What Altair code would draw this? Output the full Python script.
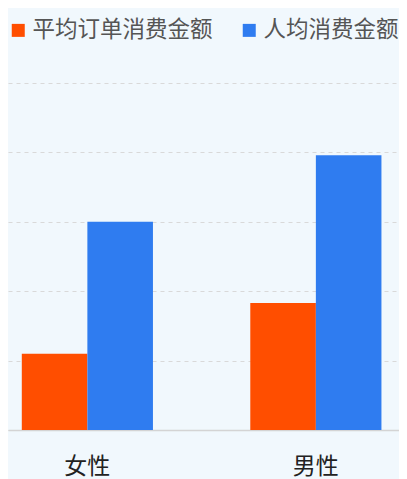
import altair as alt
import pandas as pd

genders = ["女性", "男性"]
series = ["平均订单消费金额", "人均消费金额"]
avg_order = [1.1, 1.83]
per_capita = [3.0, 3.96]
y_ticks = [0, 1, 2, 3, 4, 5]
colors = ["#FF4E00", "#2F7CF0"]

rows = []
for g, a, p in zip(genders, avg_order, per_capita):
    rows.append({"gender": g, "series": series[0], "value": a})
    rows.append({"gender": g, "series": series[1], "value": p})
df = pd.DataFrame(rows)

font = "Noto Sans CJK SC"

chart = alt.Chart(df).mark_bar().encode(
    x=alt.X("gender:N", sort=genders, title=None,
            scale=alt.Scale(paddingInner=0.426, paddingOuter=0.0686, align=0.44),
            axis=alt.Axis(labelAngle=0, labelFontSize=23, labelColor="#222222",
                          labelFont=font, ticks=False, labelPadding=25,
                          domain=True, domainColor="#d4d4d4", domainWidth=1.5,
                          grid=False)),
    xOffset=alt.XOffset("series:N", sort=series, scale=alt.Scale(paddingInner=0, paddingOuter=0)),
    y=alt.Y("value:Q", title=None,
            scale=alt.Scale(domain=[0, 5], nice=False),
            axis=alt.Axis(values=y_ticks, labels=False, ticks=False, domain=False,
                          grid=True, gridDash=[4, 4], gridColor="#d9d9d9", gridWidth=1)),
    color=alt.Color("series:N", sort=series,
                    scale=alt.Scale(domain=series, range=colors),
                    legend=alt.Legend(title=None, orient="none", direction="horizontal",
                                      legendX=-1, legendY=-64,
                                      symbolType="square", symbolSize=169,
                                      symbolStrokeWidth=0, labelFontSize=22.5,
                                      labelFont=font, labelColor="#555555",
                                      labelOffset=3, columnPadding=25, labelLimit=400)),
).properties(
    width=391,
    height=347,
    autosize=alt.AutoSizeParams(type="none"),
    padding={"top": 75, "left": 0, "right": 0, "bottom": 49},
    background="#f1f8fd",
).configure_view(stroke=None)

chart.save("out.html", embed_options={"renderer": "svg", "actions": False})
